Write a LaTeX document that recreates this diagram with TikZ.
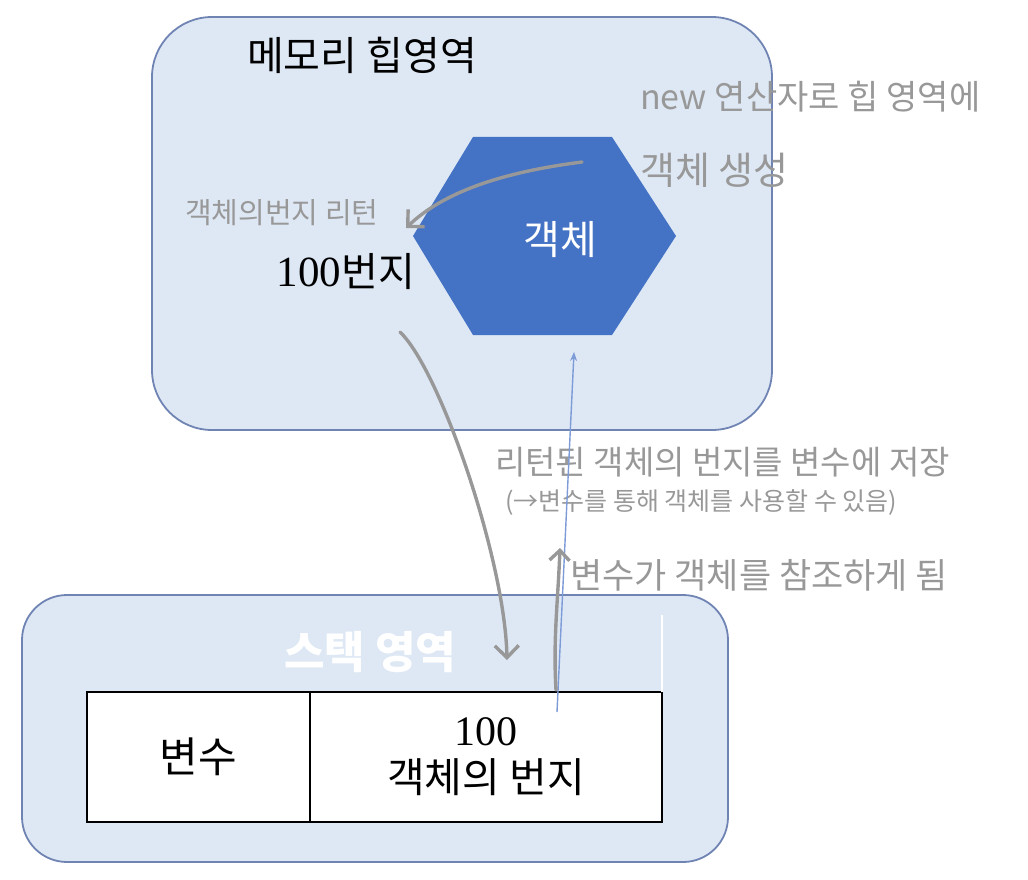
\documentclass[tikz,border=0pt]{standalone}
\usepackage{fontspec}
\setmainfont{Liberation Serif}
\newfontfamily\krfont{Noto Sans CJK KR}
\usetikzlibrary{arrows.meta, positioning, calc}
\definecolor{regionfill}{RGB}{222,232,245}
\definecolor{regionline}{RGB}{112,132,180}
\definecolor{objblue}{RGB}{68,114,196}
\definecolor{pengray}{RGB}{152,152,152}
\definecolor{reflink}{RGB}{125,155,215}
\tikzset{
  region/.style={rectangle, draw=regionline, fill=regionfill, line width=1.8pt},
  heading/.style={font=\krfont\fontsize{40}{44}\selectfont, inner sep=0pt},
  cell/.style={rectangle, draw=black, fill=white, line width=1.6pt,
    minimum height=130pt, outer sep=0pt, inner sep=0pt, align=center},
  memo/.style={text=pengray, font=\krfont\fontsize{33}{38}\selectfont,
    anchor=west, inner sep=0pt},
  pen/.style={draw=pengray, line width=3.4pt, line cap=round,
    -{Straight Barb[length=12pt, width=24pt, line width=3.4pt]}},
  link/.style={draw=reflink, line width=1.4pt, -{Stealth[length=9pt, width=7pt]}}
}

\begin{document}
\begin{tikzpicture}[x=1pt, y=-1pt]
  \useasboundingbox (0,0) rectangle (1028,880);

  % Memory regions
  \node[region, minimum width=620pt, minimum height=413pt, rounded corners=60pt] (heap) at (462,223.5) {};
  \node[region, minimum width=706pt, minimum height=267pt, rounded corners=45pt] (stack) at (375,728.5) {};
  \node[heading] (heaptitle) at (362,55) {메모리 힙영역};
  \node[heading, text=white, font=\krfont\bfseries\fontsize{44}{48}\selectfont] (stacktitle) at (370,652) {스택 영역};

  % Object on the heap
  \fill[objblue] (413,236) -- (473,137) -- (612,137) -- (676,236) -- (612,335) -- (473,335) -- cycle;
  \node[text=white, font=\krfont\fontsize{40}{44}\selectfont] (obj) at (560,240) {객체};
  \node[font=\fontsize{43}{46}\selectfont, inner sep=0pt] (addr) at (346,272) {100{\krfont\fontsize{40}{44}\selectfont 번지}};

  % Variable table
  \node[cell, minimum width=223pt, font=\krfont\fontsize{42}{46}\selectfont] (varname) at (198.5,757) {변수};
  \node[cell, minimum width=352pt, right=0pt of varname, font=\fontsize{42}{47}\selectfont] (varvalue)
    {100\\{\krfont\fontsize{41}{47}\selectfont 객체의 번지}};
  \draw[white, line width=1.6pt] (varvalue.north east) -- ++(0,-77);

  % Notes
  \node[memo, font=\krfont\fontsize{34}{38}\selectfont] (newnote) at (640,97) {new 연산자로 힙 영역에};
  \node[memo, font=\krfont\fontsize{38}{42}\selectfont] (newnote2) at (640,170) {객체 생성};
  \node[memo, font=\krfont\fontsize{29}{34}\selectfont] (retnote) at (185,213) {객체의번지 리턴};
  \node[memo] (savenote) at (495,462) {리턴된 객체의 번지를 변수에 저장};
  \node[memo, font=\krfont\fontsize{25}{30}\selectfont] (usenote) at (505,502) {(→변수를 통해 객체를 사용할 수 있음)};
  \node[memo, font=\krfont\fontsize{35}{40}\selectfont] (refnote) at (570,575) {변수가 객체를 참조하게 됨};

  % Paths
  \coordinate (newtail) at (582,162);
  \coordinate (rethead) at (406,228);
  \coordinate (addrtail) at (400,332);
  \coordinate (stackhead) at (507,660);
  \coordinate (valuetail) at (557,712);
  \coordinate (objbottom) at (574,352);
  \coordinate (reftail) at (556,690);
  \coordinate (refhead) at (560,548);
  \draw[pen] (newtail) .. controls (520,170) and (450,186) .. (rethead);
  \draw[pen] (addrtail) .. controls (440,370) and (505,560) .. (stackhead);
  \draw[link] (valuetail) -- (objbottom);
  \draw[pen, -{Straight Barb[length=10pt, width=20pt, line width=3.4pt]}] (reftail) .. controls (553,640) and (558,600) .. (refhead);
\end{tikzpicture}
\end{document}
